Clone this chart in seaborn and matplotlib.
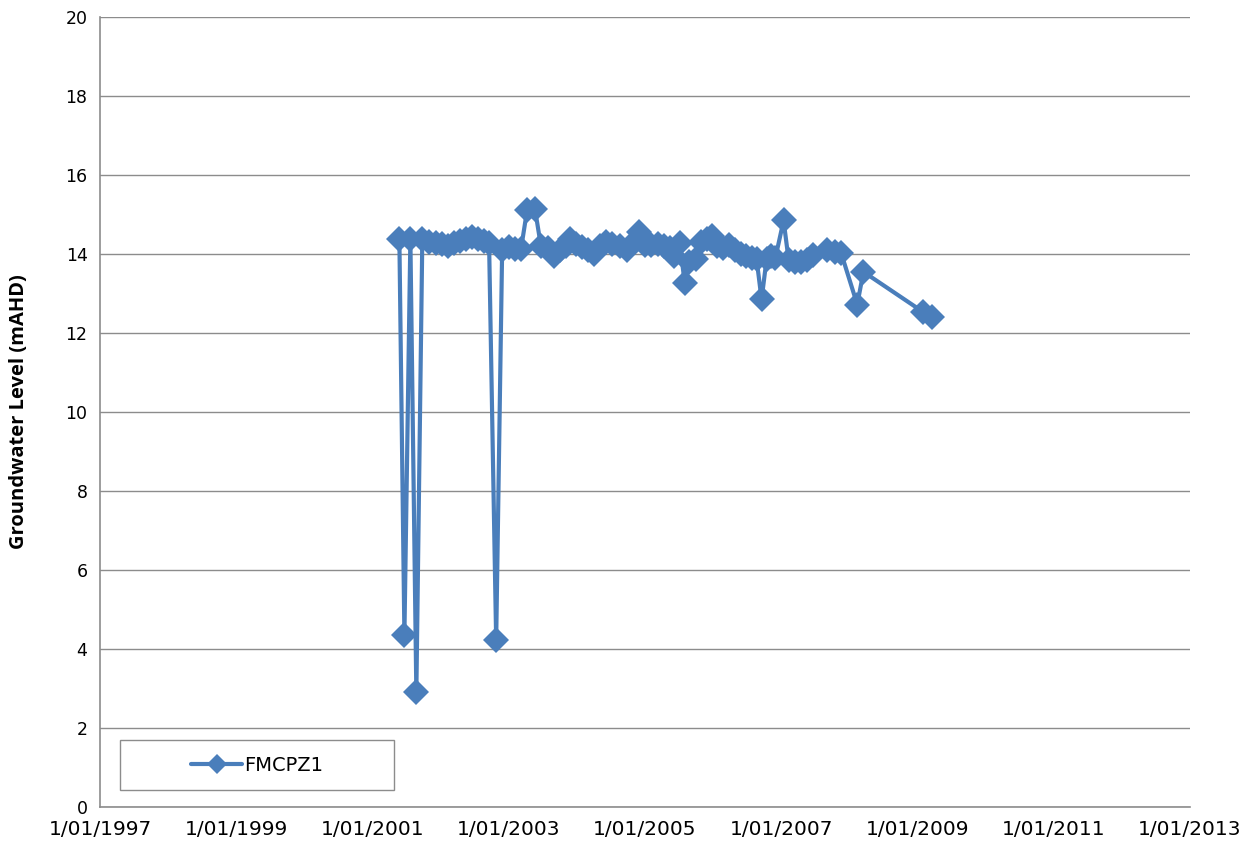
import matplotlib
matplotlib.use("Agg")
import matplotlib.pyplot as plt
from matplotlib.patches import Rectangle
import pandas as pd
import seaborn as sns

dates = [
    "2001-05-25", "2001-06-21", "2001-07-23", "2001-08-24", "2001-09-25",
    "2001-11-01", "2001-12-08", "2002-01-10", "2002-02-11", "2002-03-15",
    "2002-04-16", "2002-05-18", "2002-06-19", "2002-07-21", "2002-08-22",
    "2002-09-18", "2002-10-26", "2002-11-27", "2003-01-03", "2003-02-04",
    "2003-03-08", "2003-04-10", "2003-05-22", "2003-06-23", "2003-07-30",
    "2003-09-01", "2003-10-03", "2003-11-04", "2003-11-25", "2003-12-27",
    "2004-01-28", "2004-03-01", "2004-04-02", "2004-05-04", "2004-06-05",
    "2004-07-07", "2004-08-19", "2004-09-25", "2004-10-27", "2004-11-28",
    "2005-01-01", "2005-02-02", "2005-03-11", "2005-04-12", "2005-05-14",
    "2005-06-04", "2005-07-06", "2005-08-02", "2005-08-23", "2005-09-30",
    "2005-10-27", "2005-11-28", "2005-12-25", "2006-01-21", "2006-02-22",
    "2006-03-26", "2006-04-27", "2006-05-29", "2006-06-25", "2006-07-27",
    "2006-08-22", "2006-09-18", "2006-10-15", "2006-11-05", "2006-12-01",
    "2007-01-14", "2007-02-10", "2007-03-18", "2007-04-19", "2007-05-21",
    "2007-06-22", "2007-09-05", "2007-10-18", "2007-11-19", "2008-02-13",
    "2008-03-17", "2009-02-01", "2009-03-20",
]
levels = [
    14.38, 4.35, 14.38, 2.90, 14.38,
    14.30, 14.27, 14.25, 14.20, 14.27,
    14.32, 14.37, 14.42, 14.37, 14.32,
    14.27, 4.22, 14.10, 14.17, 14.12,
    14.12, 15.12, 15.14, 14.20, 14.15,
    13.95, 14.10, 14.20, 14.37, 14.25,
    14.18, 14.10, 14.00, 14.20, 14.30,
    14.25, 14.20, 14.10, 14.27, 14.55,
    14.22, 14.22, 14.25, 14.20, 14.15,
    13.95, 14.27, 13.27, 13.80, 13.88,
    14.30, 14.37, 14.45, 14.20, 14.15,
    14.22, 14.10, 14.00, 13.95, 13.90,
    13.88, 12.85, 13.88, 13.95, 13.90,
    14.85, 13.85, 13.80, 13.80, 13.85,
    13.97, 14.10, 14.05, 14.02, 12.72,
    13.55, 12.53, 12.40,
]
series_name = "FMCPZ1"
xtick_dates = ["1997-01-01", "1999-01-01", "2001-01-01", "2003-01-01",
               "2005-01-01", "2007-01-01", "2009-01-01", "2011-01-01", "2013-01-01"]
yticks = [0, 2, 4, 6, 8, 10, 12, 14, 16, 18, 20]

df = pd.DataFrame({"date": pd.to_datetime(dates), "level": levels, "well": series_name})

sns.set_style("white")
plt.rcParams["font.family"] = ["DejaVu Sans"]

fig = plt.figure(figsize=(12.55, 8.61), dpi=100)
ax = fig.add_axes([0.0797, 0.0627, 0.8685, 0.9175])

color = "#4A7EBB"
sns.lineplot(data=df, x="date", y="level", hue="well", palette=[color],
             marker="D", markersize=13, linewidth=3, markeredgewidth=0,
             ax=ax, legend=True, sort=False, estimator=None)

xt = pd.to_datetime(xtick_dates)
ax.set_xlim(xt[0], xt[-1])
ax.set_xticks(xt)
ax.set_xticklabels([f"{d.month}/{d.day:02d}/{d.year}" for d in xt], fontsize=14.5, color="black")
ax.set_ylim(0, 20)
ax.set_yticks(yticks)
ax.set_yticklabels([str(v) for v in yticks], fontsize=12.5, color="black")

ax.grid(axis="y", color="#8c8c8c", linewidth=1)
ax.grid(axis="x", visible=False)
for s in ["top", "right"]:
    ax.spines[s].set_visible(False)
for s in ["left", "bottom"]:
    ax.spines[s].set_color("#8c8c8c")
    ax.spines[s].set_linewidth(1.2)
ax.tick_params(axis="both", direction="out", length=6, color="#8c8c8c", width=1, pad=3)

ax.set_xlabel("")
ax.set_ylabel("Groundwater Level (mAHD)", fontsize=14.5, fontweight="bold",
              family=["Open Sans"], labelpad=26, color="black")

# legend
leg = ax.legend(loc="center", bbox_to_anchor=(0.018, 0.0215, 0.252, 0.063),
                frameon=False, fontsize=14, handlelength=2.6, handletextpad=0.1,
                borderpad=0, labelcolor="black")
for h in leg.legend_handles:
    h.set_markersize(10)
ax.add_patch(Rectangle((0.018, 0.0215), 0.252, 0.063, transform=ax.transAxes,
                       fill=True, facecolor="white", edgecolor="#8c8c8c", linewidth=1, zorder=4))
leg.set_zorder(5)

fig.savefig("out.png", dpi=100)
